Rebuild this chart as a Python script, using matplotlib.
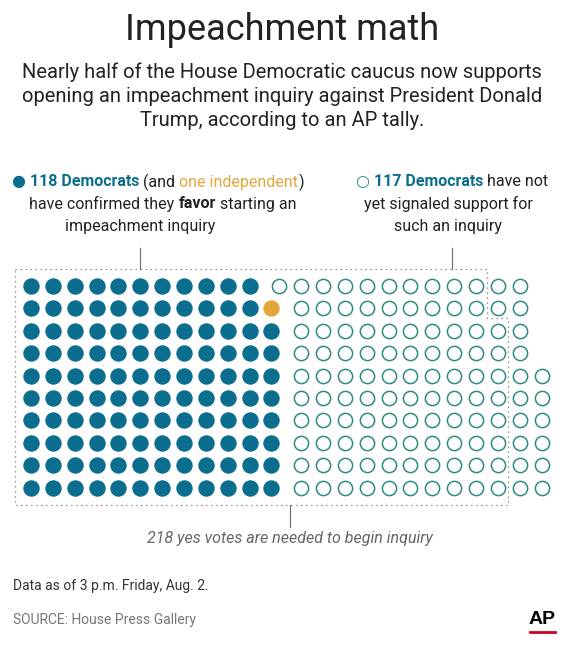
import matplotlib
matplotlib.use("Agg")
import matplotlib.pyplot as plt
import numpy as np

# data
democrats_yes = 118
independent_yes = 1
not_yet = 117
needed = 218
n_rows = 10
# open-circle layout per row (start col, count)
open_rows = [(11, 12), (12, 11), (12, 11), (12, 11), (12, 12), (12, 12), (12, 12), (12, 12), (12, 12), (12, 12)]

TEAL = "#0b6e8e"
ORANGE = "#e3a63b"
OPEN = "#2e8b80"
FONT = ["Liberation Sans Narrow", "Roboto", "DejaVu Sans"]
plt.rcParams['font.family'] = FONT

fig = plt.figure(figsize=(5.64, 6.5), dpi=100)
ax = fig.add_axes([0, 0, 1, 1])
ax.set_xlim(0, 564); ax.set_ylim(650, 0); ax.axis('off')

x0, dx, y0, dy = 31, 21.85, 286, 22.4
fx, fy = [], []
for c in range(12):
    for r in range(n_rows):
        if c == 11 and r < 2:
            continue
        fx.append(x0 + c*dx); fy.append(y0 + r*dy)
assert len(fx) == democrats_yes
ax.scatter(fx, fy, s=140, color=TEAL, linewidths=0)
ax.scatter([x0 + 11*dx], [y0 + dy], s=140, color=ORANGE, linewidths=0)
ox, oy = [], []
for r, (start, cnt) in enumerate(open_rows):
    for k in range(cnt):
        ox.append(x0 + (start+k)*dx + 8); oy.append(y0 + r*dy)
ax.scatter(ox, oy, s=105, facecolor='white', edgecolor=OPEN, linewidths=1.1)

# dotted 218 boundary
bx = [15, 487, 487, 508, 508, 15, 15]
by = [269, 269, 318, 318, 505, 505, 269]
ax.plot(bx, by, ls=(0, (1, 3)), color="#777777", lw=0.9)
for x, ya, yb in [(140, 248, 269), (452, 248, 269), (290, 505, 527)]:
    ax.plot([x, x], [ya, yb], color="#777777", lw=0.9)

ax.text(282, 30, "Impeachment math", ha='center', va='center', fontsize=26, color="#222222")
for i, line in enumerate(["Nearly half of the House Democratic caucus now supports",
                          "opening an impeachment inquiry against President Donald",
                          "Trump, according to an AP tally."]):
    ax.text(282, 72 + i*24.5, line, ha='center', va='center', fontsize=14.5, color="#222222")

fig.canvas.draw()
r = fig.canvas.get_renderer()

def seq(pieces, cx, y, fs=11.5):
    ws = []
    for t, c, w in pieces:
        tt = ax.text(0, 0, t, fontsize=fs, fontweight=w)
        ws.append(tt.get_window_extent(r).width); tt.remove()
    x = cx - sum(ws)/2
    for (t, c, w), wd in zip(pieces, ws):
        ax.text(x, y, t, fontsize=fs, color=c, fontweight=w, va='center', ha='left')
        x += wd

D = "#222222"
seq([("● ", TEAL, 'normal'), ("118 Democrats", TEAL, 'bold'), (" (and ", D, 'normal'),
     ("one independent", ORANGE, 'normal'), (")", D, 'normal')], 158, 182)
seq([("have confirmed they ", D, 'normal'), ("favor", D, 'bold'), (" starting an", D, 'normal')], 163, 204)
seq([("impeachment inquiry", D, 'normal')], 140, 226)
seq([("○ ", OPEN, 'normal'), ("117 Democrats", TEAL, 'bold'), (" have not", D, 'normal')], 452, 182)
seq([("yet signaled support for", D, 'normal')], 448, 204)
seq([("such an inquiry", D, 'normal')], 448, 226)

ax.text(290, 539, "218 yes votes are needed to begin inquiry", ha='center', va='center',
        fontsize=11.5, style='italic', color="#666666")
ax.text(13, 586, "Data as of 3 p.m. Friday, Aug. 2.", va='center', fontsize=10, color="#333333")
ax.text(13, 620, "SOURCE: House Press Gallery", va='center', fontsize=10, color="#777777")
ax.text(542, 620, "AP", ha='center', va='center', fontsize=14, fontweight='bold', color="black",
        family="Liberation Sans")
ax.plot([530, 555], [632, 632], color='#d0021b', lw=2)

fig.savefig("out.png", dpi=100)
